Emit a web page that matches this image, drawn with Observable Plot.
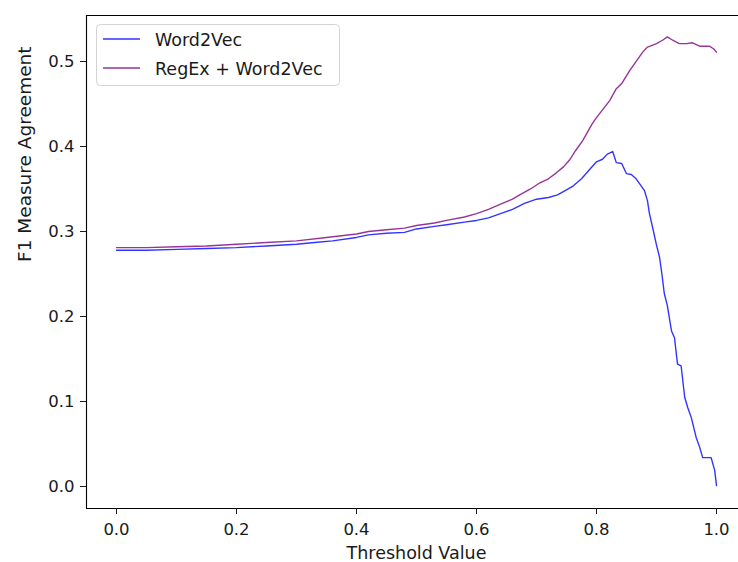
<!DOCTYPE html>
<html><head><meta charset="utf-8">
<script src="https://cdn.jsdelivr.net/npm/d3@7"></script>
<script src="https://cdn.jsdelivr.net/npm/@observablehq/plot@0.6"></script>
<style>
body{margin:0;background:#fff;}
#wrap{position:relative;width:738px;height:562px;overflow:hidden;}
#legend{position:absolute;left:96px;top:24px;}
</style></head><body><div id="wrap"></div>
<script>
const seriesNames = ["Word2Vec", "RegEx + Word2Vec"];
const seriesColors = ["blue", "purple"];

const w2vThreshold = [0.00,0.05,0.10,0.15,0.20,0.25,0.30,0.33,0.36,0.40,0.42,0.45,0.48,0.50,0.53,0.55,0.58,0.60,0.62,0.64,0.66,0.68,0.70,0.72,0.735,0.75,0.76,0.775,0.79,0.80,0.81,0.818,0.827,0.833,0.842,0.85,0.858,0.866,0.872,0.88,0.885,0.888,0.895,0.900,0.905,0.909,0.913,0.918,0.925,0.930,0.935,0.941,0.947,0.952,0.958,0.966,0.972,0.977,0.991,0.997,1.000];
const w2vF1 = [0.278,0.278,0.279,0.280,0.281,0.283,0.285,0.287,0.289,0.293,0.296,0.298,0.299,0.303,0.306,0.308,0.311,0.313,0.316,0.321,0.326,0.333,0.338,0.340,0.343,0.349,0.353,0.362,0.374,0.382,0.385,0.391,0.394,0.381,0.380,0.368,0.367,0.362,0.356,0.348,0.336,0.322,0.300,0.284,0.270,0.250,0.227,0.213,0.183,0.175,0.144,0.142,0.105,0.093,0.081,0.058,0.046,0.034,0.034,0.019,0.001];

const regexThreshold = [0.00,0.05,0.10,0.15,0.20,0.25,0.30,0.35,0.40,0.42,0.45,0.48,0.50,0.53,0.55,0.58,0.60,0.62,0.643,0.66,0.672,0.69,0.705,0.72,0.733,0.745,0.755,0.765,0.777,0.785,0.793,0.80,0.81,0.822,0.833,0.843,0.855,0.867,0.877,0.885,0.90,0.91,0.918,0.927,0.938,0.95,0.96,0.972,0.988,0.995,1.000];
const regexF1 = [0.281,0.281,0.282,0.283,0.285,0.287,0.289,0.293,0.297,0.300,0.302,0.304,0.307,0.310,0.313,0.317,0.321,0.326,0.333,0.338,0.343,0.350,0.357,0.362,0.369,0.376,0.384,0.395,0.407,0.417,0.427,0.434,0.443,0.454,0.468,0.475,0.489,0.501,0.511,0.517,0.521,0.525,0.529,0.525,0.521,0.521,0.522,0.518,0.518,0.515,0.511];

const xTicks = [0.0, 0.2, 0.4, 0.6, 0.8, 1.0];
const yTicks = [0.0, 0.1, 0.2, 0.3, 0.4, 0.5];
const xLabel = "Threshold Value";
const yLabel = "F1 Measure Agreement";

const w2v = w2vThreshold.map((t, i) => ({t, f1: w2vF1[i]}));
const regex = regexThreshold.map((t, i) => ({t, f1: regexF1[i]}));

const xDomain = [-0.05, -0.05 + 652 / 600];
const yDomain = [-0.0259, 0.5541];

const chart = Plot.plot({
  width: 738, height: 562,
  marginLeft: 86, marginRight: 0, marginTop: 15, marginBottom: 54,
  x: {domain: xDomain},
  y: {domain: yDomain},
  style: {fontFamily: "DejaVu Sans", fontSize: "16.5px", color: "#1a1a1a", background: "white"},
  marks: [
    Plot.line(w2v, {x: "t", y: "f1", stroke: seriesColors[0], strokeOpacity: 0.8, strokeWidth: 1.4}),
    Plot.line(regex, {x: "t", y: "f1", stroke: seriesColors[1], strokeOpacity: 0.8, strokeWidth: 1.4}),
    Plot.ruleX([xDomain[0]], {stroke: "black", strokeWidth: 1.1}),
    Plot.ruleY([yDomain[0], yDomain[1]], {stroke: "black", strokeWidth: 1.1}),
    Plot.axisX({ticks: xTicks, tickFormat: d3.format(".1f"), tickSize: 6, tickPadding: 9, label: null, fontSize: 16.5}),
    Plot.axisY({ticks: yTicks, tickFormat: d3.format(".1f"), tickSize: 6, tickPadding: 6, label: null, fontSize: 16.5}),
    Plot.text([xLabel], {x: 0.5, frameAnchor: "bottom", dy: 50, fontSize: 17.5, fill: "#1a1a1a", text: d => d}),
    Plot.text([yLabel], {frameAnchor: "left", dx: -61, rotate: -90, fontSize: 18.5, fill: "#1a1a1a", text: d => d})
  ]
});

const wrap = document.getElementById("wrap");
wrap.appendChild(chart);

// legend
const lg = d3.select(wrap).append("svg").attr("id", "legend")
  .attr("width", 245).attr("height", 63);
lg.append("rect").attr("x", 0.5).attr("y", 0.5).attr("width", 243).attr("height", 61)
  .attr("rx", 4).attr("fill", "rgba(255,255,255,0.8)").attr("stroke", "#d3d3d3");
seriesNames.forEach((name, i) => {
  const y = 15 + i * 29;
  lg.append("line").attr("x1", 7).attr("x2", 44).attr("y1", y).attr("y2", y)
    .attr("stroke", seriesColors[i]).attr("stroke-opacity", 0.8).attr("stroke-width", 1.5);
  lg.append("text").attr("x", 59).attr("y", y + 6.5).attr("font-family", "DejaVu Sans")
    .attr("font-size", 17.5).attr("fill", "#1a1a1a").text(name);
});
</script>
</body></html>
